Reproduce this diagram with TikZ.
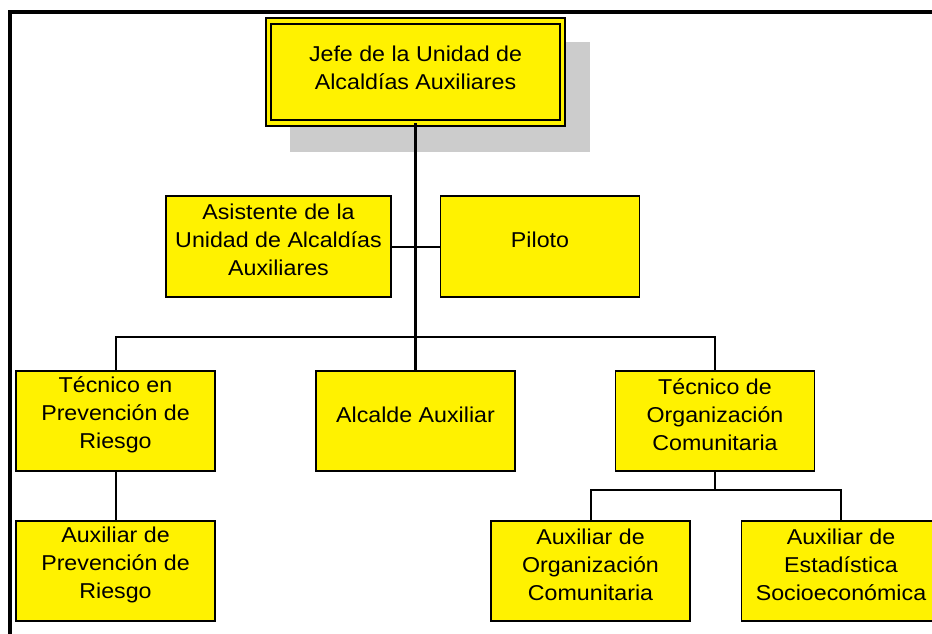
\documentclass[tikz,border=0pt]{standalone}
\usepackage{fontspec}
\setmainfont[FakeStretch=1.08]{Liberation Sans}
\definecolor{shadowgray}{RGB}{204,204,204}

\begin{document}
\begin{tikzpicture}[x=1pt,y=-1pt]
\tikzset{box/.style = {shape=rectangle,draw,line width=1.5pt,fill=yellow,minimum width=199pt,minimum height=100pt,inner sep=0pt,outer sep=0pt}}
\tikzset{txt/.style = {align=center,inner sep=0pt,font=\fontsize{21.5}{28}\selectfont}}
\tikzset{edge/.style = {-,line width=2pt}}
\tikzset{trunk/.style = {-,line width=3pt}}
\useasboundingbox (0,0) rectangle (932,634);
\fill[white] (0,0) rectangle (932,634);
\clip (0,0) rectangle (932,634);

%frame
\draw[line width=4pt] (940,12) -| (10,640);

%shadow
\fill[shadowgray] (290,42) rectangle (590,152);

\node[box,line width=1.8pt,double=yellow,double distance=3.5pt,minimum width=294pt,minimum height=102pt] (jefe) at (415.5,72) {};
\node[box,minimum width=225pt,minimum height=101pt] (asist) at (278.5,246.5) {};
\node[box,minimum height=101pt] (piloto) at (540,246.5) {};
\node[box] (tecprev) at (115.5,421) {};
\node[box] (alcalde) at (415.5,421) {};
\node[box] (tecorg) at (715,421) {};
\node[box] (auxprev) at (115.5,571) {};
\node[box] (auxorg) at (590.5,571) {};
\node[box] (auxest) at (841,571) {};

%texts
\node[txt] (jefe-t) at ([yshift=4.5pt]jefe.center) {Jefe de la Unidad de\\Alcaldías Auxiliares};
\node[txt] (asist-t) at ([yshift=6.5pt]asist.center) {Asistente de la\\Unidad de Alcaldías\\Auxiliares};
\node[txt] (piloto-t) at ([yshift=6.5pt]piloto.center) {Piloto};
\node[txt] (tecprev-t) at ([yshift=6.5pt]tecprev.center) {Técnico en\\Prevención de\\Riesgo};
\node[txt] (alcalde-t) at ([yshift=6.5pt]alcalde.center) {Alcalde Auxiliar};
\node[txt] (tecorg-t) at ([yshift=6.5pt]tecorg.center) {Técnico de\\Organización\\Comunitaria};
\node[txt] (auxprev-t) at ([yshift=6.5pt]auxprev.center) {Auxiliar de\\Prevención de\\Riesgo};
\node[txt] (auxorg-t) at ([yshift=6.5pt]auxorg.center) {Auxiliar de\\Organización\\Comunitaria};
\node[txt] (auxest-t) at ([yshift=6.5pt]auxest.center) {Auxiliar de\\Estadística\\Socioeconómica};

%edges
\coordinate (bus1) at (415.5,337);
\coordinate (bus2) at (715,490);
\draw[trunk] (jefe.south) to (alcalde.north);
\draw[edge] (asist.east) to (piloto.west);
\draw[edge] (tecprev.north) |- (bus1) -| (tecorg.north);
\draw[edge] (tecprev.south) to (auxprev.north);
\draw[edge] (tecorg.south) to (bus2);
\draw[edge] (auxorg.north) |- (bus2) -| (auxest.north);
\end{tikzpicture}
\end{document}
